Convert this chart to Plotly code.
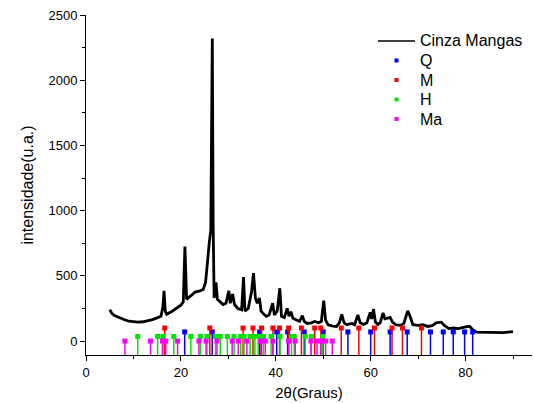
import plotly.graph_objects as go

# XRD pattern of the ash sample (2θ in degrees, intensity in a.u.)
two_theta = [5.0, 5.5, 6.0, 7.0, 8.0, 9.0, 10.0, 11.0, 12.0, 13.0, 14.0, 15.0, 15.8,
             16.2, 16.45, 16.7, 17.0, 18.0, 19.0, 20.0, 20.5, 20.85, 21.2, 22.0, 23.0,
             24.0, 24.7, 25.2, 25.6, 26.0, 26.3, 26.45, 26.62, 26.8, 27.0, 27.4, 27.7,
             28.0, 28.9, 29.5, 30.1, 30.4, 30.9, 31.3, 32.0, 32.8, 33.2, 33.5, 34.2,
             34.9, 35.3, 35.7, 36.1, 36.55, 36.9, 37.5, 38.0, 38.6, 39.35, 39.7, 40.3,
             40.85, 41.2, 41.8, 42.4, 42.8, 43.2, 43.6, 44.5, 45.0, 45.6, 46.0, 46.6,
             47.5, 48.2, 49.0, 49.6, 50.1, 50.5, 51.0, 52.0, 52.8, 53.4, 53.9, 54.4,
             55.0, 55.4, 56.1, 56.6, 57.3, 57.8, 58.5, 59.2, 59.9, 60.2, 60.6, 61.0,
             61.5, 62.0, 62.6, 63.0, 63.4, 64.1, 64.6, 65.4, 66.3, 67.0, 67.8, 68.2,
             68.9, 70.0, 71.0, 72.0, 73.0, 73.8, 74.9, 75.5, 76.5, 77.5, 78.5, 79.5,
             80.2, 80.9, 81.5, 82.3, 84.0, 86.0, 88.0, 90.0]
intensity = [240, 210, 195, 178, 165, 152, 146, 145, 148, 155, 165, 178, 190,
             260, 385, 230, 205, 225, 250, 275, 300, 725, 320, 345, 375,
             385, 395, 450, 620, 760, 850, 1400, 2320, 900, 330, 450, 320,
             310, 280, 290, 385, 290, 360, 280, 250, 240, 490, 230, 250,
             380, 520, 330, 290, 330, 230, 205, 190, 200, 290, 200, 230,
             405, 190, 180, 250, 190, 225, 175, 160, 150, 195, 150, 135,
             140, 150, 140, 150, 310, 160, 125, 115, 112, 140, 205, 140,
             125, 130, 135, 125, 200, 140, 128, 140, 220, 170, 245, 145,
             128, 140, 215, 170, 175, 182, 145, 123, 120, 135, 232, 200,
             125, 120, 125, 112, 118, 140, 145, 120, 95, 100, 95, 105,
             110, 112, 88, 68, 66, 65, 65, 72]

# Reference reflection positions for each phase
q_pos = [20.8, 26.6, 36.6, 40.2, 42.5, 46.0, 50.0, 55.2, 60.0, 64.1, 67.7, 72.6,
         75.3, 77.4, 79.8, 81.5]
m_pos = [16.6, 26.1, 33.1, 35.2, 37.0, 39.4, 40.8, 42.7, 45.4, 48.2, 49.5, 53.8,
         57.5, 60.8, 64.5, 66.7, 70.7]
h_pos = [10.9, 15.1, 16.2, 18.5, 22.1, 24.1, 25.5, 27.3, 28.3, 29.8, 31.2, 32.6,
         33.3, 34.6, 35.6, 36.3, 37.4, 39.0, 40.9, 43.3, 43.9, 46.2, 47.5, 49.9]
ma_pos = [8.2, 13.6, 16.1, 16.8, 19.3, 23.8, 25.3, 27.6, 30.8, 32.1, 33.9, 36.8,
          37.8, 39.4, 42.7, 44.1, 47.4, 48.7, 49.5, 50.5, 51.9]

# Marker level of each phase's stick pattern
q_level, m_level, h_level, ma_level = 70, 100, 35, 0

series_name = "Cinza Mangas"
phase_names = ["Q", "M", "H", "Ma"]
phase_colors = ["#0000FF", "#FF0000", "#00E600", "#FF00FF"]

Y_MIN, Y_MAX = -107, 2500
X_MIN, X_MAX = 0, 94

W, H = 534, 403
ML, MR, MT, MB = 86, 2, 15, 48
PW, PH = W - ML - MR, H - MT - MB

FONT = "Arial, Liberation Sans, sans-serif"


def px_x(px):
    """Horizontal pixel position -> paper coordinate."""
    return (px - ML) / PW


def px_y(py):
    """Vertical pixel position -> paper coordinate."""
    return (H - MB - py) / PH


fig = go.Figure()
fig.add_trace(go.Scatter(
    x=two_theta, y=intensity, mode="lines", name=series_name,
    line=dict(color="black", width=2.8), showlegend=False,
))

phases = zip(phase_names,
             [q_pos, m_pos, h_pos, ma_pos],
             [q_level, m_level, h_level, ma_level],
             phase_colors)
for name, pos, level, color in phases:
    fig.add_trace(go.Scatter(
        x=pos, y=[level] * len(pos), mode="markers", name=name,
        marker=dict(symbol="square", size=5, color=color),
        error_y=dict(type="data", symmetric=False,
                     array=[0] * len(pos),
                     arrayminus=[level - Y_MIN] * len(pos),
                     width=0, thickness=1.5, color=color),
        showlegend=False,
    ))

# Key box in the upper right: line sample plus phase markers
row_y = [41, 60.5, 80, 99.5, 119]
text_x = 418
shapes = [dict(type="line", xref="paper", yref="paper",
               x0=px_x(378), x1=px_x(415), y0=px_y(row_y[0]), y1=px_y(row_y[0]),
               line=dict(color="black", width=1.3))]
annotations = [dict(text=series_name, xref="paper", yref="paper",
                    x=px_x(text_x), y=px_y(row_y[0]), xanchor="left",
                    yanchor="middle", showarrow=False, font=dict(size=16))]
for name, color, ry in zip(phase_names, phase_colors, row_y[1:]):
    shapes.append(dict(type="rect", xref="paper", yref="paper",
                       x0=px_x(394.5), x1=px_x(398.5),
                       y0=px_y(ry - 2), y1=px_y(ry + 2),
                       fillcolor=color, line=dict(width=0)))
    annotations.append(dict(text=name, xref="paper", yref="paper",
                            x=px_x(text_x), y=px_y(ry), xanchor="left",
                            yanchor="middle", showarrow=False,
                            font=dict(size=16)))

fig.update_layout(
    width=W, height=H,
    margin=dict(l=ML, r=MR, t=MT, b=MB),
    paper_bgcolor="white", plot_bgcolor="white",
    font=dict(family=FONT, size=13, color="black"),
    showlegend=False,
    shapes=shapes,
    annotations=annotations,
    xaxis=dict(
        range=[X_MIN, X_MAX], tickmode="linear", tick0=0, dtick=20,
        ticks="outside", ticklen=5, tickwidth=1, tickcolor="black",
        minor=dict(dtick=10, ticks="outside", ticklen=3, tickcolor="black"),
        showline=True, linecolor="black", linewidth=1, showgrid=False,
        zeroline=False, tickfont=dict(size=13),
        title=dict(text="2θ(Graus)", font=dict(size=15), standoff=8),
    ),
    yaxis=dict(
        range=[Y_MIN, Y_MAX], tickmode="linear", tick0=0, dtick=500,
        ticks="outside", ticklen=5, tickwidth=1, tickcolor="black",
        minor=dict(dtick=250, ticks="outside", ticklen=3, tickcolor="black"),
        showline=True, linecolor="black", linewidth=1, showgrid=False,
        zeroline=False, tickfont=dict(size=13),
        title=dict(text="intensidade(u.a.)", font=dict(size=16), standoff=10),
    ),
)

fig.write_html("out.html")
